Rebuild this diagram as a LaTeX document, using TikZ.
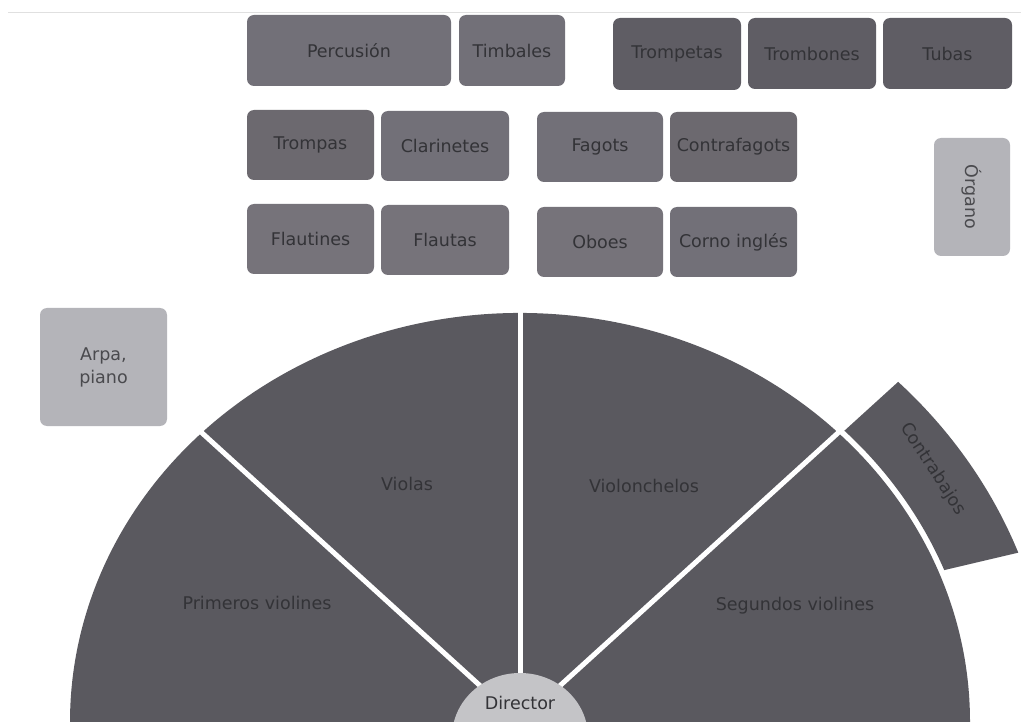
\documentclass[tikz,border=0pt]{standalone}
\usepackage{fontspec}
\setmainfont{DejaVu Sans}
\usetikzlibrary{shapes.geometric}
\definecolor{boxa}{HTML}{727078}
\definecolor{boxb}{HTML}{5F5D64}
\definecolor{boxc}{HTML}{6C696F}
\definecolor{boxd}{HTML}{76737A}
\definecolor{lightbox}{HTML}{B4B4B9}
\definecolor{sector}{HTML}{5A595F}
\definecolor{dirc}{HTML}{C4C4C7}
\definecolor{txt}{HTML}{333337}
\definecolor{ltxt}{HTML}{4A4A4E}
\begin{document}
\begin{tikzpicture}[x=1pt,y=-1pt,
  font=\fontsize{17.5}{23}\selectfont,
  box/.style={rounded corners=7pt, inner sep=0pt, outer sep=0pt, text=txt, align=center},
  lbl/.style={text=txt, inner sep=0pt}]
\useasboundingbox (0,0) rectangle (1021,722);
\fill[white] (0,0) rectangle (1021,722);
\coordinate (la) at (8,13);
\coordinate (lb) at (1021,13);
\draw[black!12, line width=1pt] (la) -- (lb);

% row 1
\node[box, fill=boxa, minimum width=204pt, minimum height=71pt] (perc) at (349,50.5) {Percusión};
\node[box, fill=boxa, minimum width=106pt, minimum height=71pt] (timb) at (512,50.5) {Timbales};
\node[box, fill=boxb, minimum width=128pt, minimum height=72pt] (trpt) at (677,54) {Trompetas};
\node[box, fill=boxb, minimum width=128pt, minimum height=71pt] (trbn) at (812,53.5) {Trombones};
\node[box, fill=boxb, minimum width=129pt, minimum height=71pt] (tuba) at (947.5,53.5) {Tubas};
% row 2
\node[box, fill=boxc, minimum width=127pt, minimum height=70pt] (trmp) at (310.5,145) {Trompas};
\node[box, fill=boxa, minimum width=128pt, minimum height=70pt] (clar) at (445,146) {Clarinetes};
\node[box, fill=boxa, minimum width=126pt, minimum height=70pt] (fago) at (600,147) {Fagots};
\node[box, fill=boxc, minimum width=127pt, minimum height=70pt] (cfag) at (733.5,147) {Contrafagots};
% row 3
\node[box, fill=boxd, minimum width=127pt, minimum height=70pt] (flti) at (310.5,239) {Flautines};
\node[box, fill=boxd, minimum width=128pt, minimum height=70pt] (flau) at (445,240) {Flautas};
\node[box, fill=boxd, minimum width=126pt, minimum height=70pt] (oboe) at (600,242) {Oboes};
\node[box, fill=boxa, minimum width=127pt, minimum height=70pt] (corn) at (733.5,242) {Corno inglés};
% organ and harp
\node[box, fill=lightbox, text=ltxt, rotate=-90, minimum width=118pt, minimum height=76pt] (orga) at (972,197) {Órgano};
\node[box, fill=lightbox, text=ltxt, minimum width=127pt, minimum height=118pt] (arpa) at (103.5,367) {Arpa,\\piano};

% strings
\begin{scope}[shift={(520,722)}, yscale=-0.909]
  \fill[sector] (0,0) -- (-2:450) arc[start angle=-2, end angle=182, radius=450] -- cycle;
  \fill[sector] (21.5:456) arc[start angle=21.5, end angle=45, radius=456] -- (45:532) arc[start angle=45, end angle=20.5, radius=532] -- cycle;
  \coordinate (c0) at (0,0);
  \coordinate (e1) at (45:570);
  \coordinate (e2) at (90:470);
  \coordinate (e3) at (135:470);
\end{scope}
\draw[white, line width=5pt] (c0) -- (e1);
\draw[white, line width=5pt] (c0) -- (e2);
\draw[white, line width=5pt] (c0) -- (e3);
\node[ellipse, fill=dirc, minimum width=136pt, minimum height=128pt, inner sep=0pt] (dir) at (520,737) {};
\node[lbl] (dirt) at (520,703) {Director};
\node[lbl] (viol) at (407,484) {Violas};
\node[lbl] (vcel) at (644,486) {Violonchelos};
\node[lbl] (prim) at (257,603) {Primeros violines};
\node[lbl] (segu) at (795,606) {Segundos violines};
\node[lbl, rotate=-57] (cbaj) at (933,469) {Contrabajos};
\end{tikzpicture}
\end{document}
